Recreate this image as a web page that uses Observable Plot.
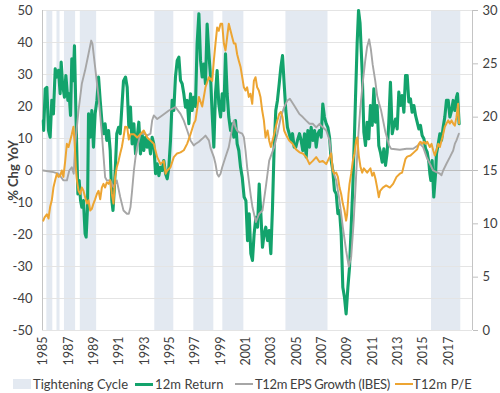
<!DOCTYPE html>
<html><head><meta charset="utf-8">
<script src="https://cdn.jsdelivr.net/npm/d3@7"></script>
<script src="https://cdn.jsdelivr.net/npm/@observablehq/plot@0.6"></script>
<style>
body{margin:0;background:#fff;font-family:Lato,"Open Sans",sans-serif;}
#wrap{position:relative;width:500px;height:393px;overflow:hidden;}
#legend{position:absolute;left:0;top:375px;width:500px;height:18px;font-size:13px;color:#404040;}
.item{position:absolute;top:0;line-height:18px;white-space:nowrap;}
.sw{position:absolute;}
g[aria-label="y-axis label"] text{font-weight:bold;}
</style></head><body><div id="wrap"><div id="chart"></div><div id="legend"></div></div>
<script>
// Tightening cycles [start, end] (decimal years)
const tighteningCycles = [
  [1985.28, 1985.75], [1986.08, 1986.32], [1986.67, 1987.55], [1987.92, 1989.21],
  [1993.80, 1995.30], [1996.88, 1998.46], [1999.17, 2000.83], [2004.15, 2007.47],
  [2015.64, 2017.95]
];

// 12m Return (% YoY) [year, value]
const return12m = [
  [1985.0,15.6],[1985.03,12.5],[1985.15,25.5],[1985.28,26],[1985.41,12.5],[1985.54,10.4],[1985.67,21.9],[1985.80,17.7],
  [1985.94,31.8],[1986.07,29.2],[1986.20,31.3],[1986.33,24],[1986.41,33.9],[1986.52,27],[1986.67,22.9],[1986.78,29.7],
  [1986.94,21.9],[1987.04,24],[1987.15,17.2],[1987.25,34.9],[1987.36,28.1],[1987.46,39],[1987.57,18.75],[1987.67,2.1],
  [1987.73,-7.3],[1987.83,-3.1],[1987.94,-9.4],[1988.04,-11.5],[1988.17,-9.4],[1988.30,-19.8],[1988.38,-20.8],[1988.49,-11.5],
  [1988.57,17.7],[1988.70,10.4],[1988.83,18.75],[1988.96,7.3],[1989.09,17.7],[1989.23,21.9],[1989.36,29.2],[1989.49,21.9],
  [1989.62,15.6],[1989.75,11.5],[1989.88,14.6],[1990.01,9.4],[1990.15,12.5],[1990.28,6.25],[1990.41,-9.4],[1990.50,-12.5],
  [1990.60,-6],[1990.70,2],[1990.80,11.5],[1990.94,13.5],[1991.07,11.5],[1991.33,28],[1991.49,29.2],[1991.62,26],
  [1991.75,13.5],[1991.88,19.8],[1992.01,8.3],[1992.15,14.6],[1992.28,5.2],[1992.41,10.4],[1992.54,15.1],[1992.67,5.2],
  [1992.80,11.5],[1992.93,6.25],[1993.07,10.4],[1993.20,7.3],[1993.33,9.4],[1993.46,5.2],[1993.59,10.4],[1993.72,8.3],
  [1993.86,-1],[1993.99,2.1],[1994.12,-1.6],[1994.25,1],[1994.38,0],[1994.51,3.1],[1994.65,-1],[1994.78,-2.6],
  [1994.91,1],[1995.04,9.4],[1995.17,21.9],[1995.30,18.75],[1995.43,29.2],[1995.57,34.4],[1995.70,35.4],[1995.83,28.1],
  [1995.96,27.1],[1996.09,24],[1996.22,19.8],[1996.36,21.9],[1996.49,14.6],[1996.62,24],[1996.75,18.75],[1996.88,22.9],
  [1997.01,20],[1997.14,39.6],[1997.28,49],[1997.41,34.4],[1997.54,29.2],[1997.67,33.3],[1997.80,27.1],[1997.93,45.8],
  [1998.07,36.5],[1998.20,29.2],[1998.33,17.7],[1998.46,7.3],[1998.59,24],[1998.72,31.25],[1998.85,20.8],[1998.99,16.7],
  [1999.12,24],[1999.25,18.75],[1999.38,36.5],[1999.51,24],[1999.64,16.7],[1999.78,12.5],[1999.91,14.6],[2000.04,10.4],
  [2000.17,15.6],[2000.30,8.3],[2000.43,6.25],[2000.57,1],[2000.70,-2.1],[2000.85,-8.3],[2000.99,-9.4],[2001.12,-21.9],
  [2001.25,-13.5],[2001.38,-26],[2001.51,-28.1],[2001.64,-19.8],[2001.78,-14.6],[2001.91,-17.7],[2002.04,-4.2],[2002.17,-13.5],
  [2002.30,-24],[2002.43,-19.8],[2002.56,-17.7],[2002.70,-21.9],[2002.83,-18.75],[2002.96,-26],[2003.09,-11.5],[2003.22,7.3],
  [2003.35,18.75],[2003.48,21.9],[2003.62,27.1],[2003.75,32.3],[2003.88,35.9],[2004.01,27.1],[2004.14,18.75],[2004.27,13.5],
  [2004.41,11.5],[2004.54,9.4],[2004.67,11.5],[2004.80,7.3],[2004.93,7.3],[2005.06,9.4],[2005.22,11.5],[2005.35,9.4],
  [2005.48,6.25],[2005.62,11.5],[2005.75,4.2],[2005.88,12.5],[2006.01,7.3],[2006.14,13.5],[2006.27,9.4],[2006.41,12.5],
  [2006.54,7.3],[2006.67,11.5],[2006.80,12.5],[2006.93,10.4],[2007.06,20.8],[2007.19,16.7],[2007.33,14.6],[2007.46,13.5],
  [2007.59,10.4],[2007.72,3.1],[2007.85,0],[2007.98,-6.25],[2008.12,-7.3],[2008.25,-13.5],[2008.38,-12.5],[2008.51,-19.8],
  [2008.64,-36.5],[2008.77,-39.6],[2008.90,-44.8],[2009.04,-36.5],[2009.17,-30.2],[2009.30,-17.7],[2009.43,-5],[2009.55,10],
  [2009.64,22.4],[2009.77,39.6],[2009.88,50],[2010.00,46],[2010.17,30.7],[2010.30,12],[2010.43,7.8],[2010.56,15.1],
  [2010.69,9.9],[2010.82,20.3],[2010.96,14.1],[2011.09,25.5],[2011.22,15.1],[2011.35,20.3],[2011.48,7.8],[2011.61,5.7],
  [2011.75,2.6],[2011.88,6.8],[2012.01,1.6],[2012.14,5.7],[2012.27,15.1],[2012.40,27.6],[2012.54,11.5],[2012.67,14.1],
  [2012.80,16.1],[2012.93,13],[2013.06,24.5],[2013.19,20.3],[2013.32,23.4],[2013.46,18.2],[2013.59,29.7],[2013.72,29.7],
  [2013.85,21.4],[2013.98,22.4],[2014.11,18.2],[2014.25,20.3],[2014.38,17.2],[2014.51,15.1],[2014.64,13],[2014.77,14.1],
  [2014.90,10.9],[2015.04,9.9],[2015.17,6.8],[2015.30,5.7],[2015.43,2.6],[2015.51,-1],[2015.59,-3.1],[2015.69,3.1],
  [2015.82,-8.3],[2015.96,-1],[2016.03,5.2],[2016.17,8.3],[2016.30,11.5],[2016.43,9.4],[2016.56,13.5],[2016.69,16.7],
  [2016.82,21.9],[2016.96,21.9],[2017.09,16.7],[2017.22,18.75],[2017.35,21.9],[2017.48,18.75],[2017.61,22.9],[2017.69,24],
  [2017.82,14.6]
];

// T12m EPS Growth (IBES) (% YoY) [year, value]
const epsGrowth = [
  [1985.0,0],[1985.80,-0.5],[1986.20,-1],[1986.59,-3.1],[1986.86,-3.1],[1987.05,0],[1987.25,1],[1987.40,-1],
  [1987.52,8.3],[1987.78,18.75],[1988.04,27.1],[1988.30,31.3],[1988.57,36.5],[1988.78,40.6],[1988.88,39.6],[1989.09,32.3],
  [1989.36,22.9],[1989.62,11.5],[1989.88,-2.1],[1990.01,-3.1],[1990.28,-3.1],[1990.54,-5.2],[1990.80,-3.1],[1991.07,-8.3],
  [1991.33,-12.5],[1991.60,-13.5],[1991.75,-13.5],[1991.88,-11.5],[1992.01,-6.25],[1992.15,0],[1992.28,4.2],[1992.41,7.3],
  [1992.54,9.4],[1992.67,11.5],[1992.93,11.5],[1993.20,11],[1993.46,11.5],[1993.59,15.6],[1993.72,17.2],[1993.99,16.1],
  [1994.38,17.2],[1994.91,18.75],[1995.43,19.8],[1995.83,17.7],[1996.09,15.6],[1996.36,12.5],[1996.62,9.4],[1996.88,7.8],
  [1997.01,8.3],[1997.28,9],[1997.54,9.9],[1997.80,10.9],[1998.07,9.4],[1998.20,7],[1998.46,4.2],[1998.59,2.1],
  [1998.72,-1],[1998.85,-1.9],[1998.99,-1],[1999.12,1],[1999.38,4.2],[1999.64,7.3],[1999.78,10.4],[1999.91,13.5],
  [2000.04,15.6],[2000.17,13.5],[2000.30,12.5],[2000.43,12],[2000.70,11.5],[2000.83,10.4],[2000.96,6.25],[2001.09,1],
  [2001.22,-3.1],[2001.38,-8],[2001.51,-11.5],[2001.78,-16.1],[2002.04,-13.5],[2002.30,-12.5],[2002.56,-5.2],[2002.83,3.1],
  [2003.22,7.3],[2003.48,11.5],[2003.75,16.7],[2004.01,19.8],[2004.27,21.9],[2004.46,22.4],[2004.80,20.3],[2005.20,17.7],
  [2005.48,16.7],[2005.75,15.6],[2006.01,14.6],[2006.27,14.6],[2006.54,13.5],[2006.80,14.6],[2007.06,13.5],[2007.33,12.5],
  [2007.59,9.4],[2007.85,0],[2008.12,-3.1],[2008.38,-9.4],[2008.64,-17.7],[2008.90,-25],[2009.11,-30],[2009.30,-27],
  [2009.48,-17],[2009.62,-7],[2009.75,3],[2009.88,12],[2010.01,19],[2010.20,27],[2010.40,34],[2010.55,38.5],
  [2010.72,41],[2010.85,38],[2011.00,33],[2011.20,28],[2011.35,23.4],[2011.50,21],[2011.65,19],[2011.80,16],
  [2012.00,12],[2012.15,9.9],[2012.30,7.8],[2012.45,6.8],[2013.14,6.5],[2013.67,6.8],[2014.19,6.8],[2014.72,8.3],
  [2014.98,7.3],[2015.25,4.2],[2015.51,2.1],[2015.77,0],[2016.03,-0.5],[2016.30,-1],[2016.43,-1.5],[2016.56,0],
  [2016.82,2.1],[2017.09,4.2],[2017.35,6.25],[2017.48,8.3],[2017.61,9.4],[2017.80,11.5]
];

// T12m P/E (right axis) [year, value]
const peRatio = [
  [1985.0,10.3],[1985.10,10.6],[1985.28,10.9],[1985.41,10.5],[1985.54,11.6],[1985.67,12.2],[1985.80,13.4],[1985.94,14.1],
  [1986.07,14.7],[1986.20,14.4],[1986.33,14.5],[1986.46,15],[1986.59,14.4],[1986.73,15.9],[1986.86,17.5],[1986.99,17.2],
  [1987.12,17.8],[1987.25,18.4],[1987.38,19.1],[1987.46,17.8],[1987.57,15.3],[1987.65,14.1],[1987.78,13.1],[1987.91,12.8],
  [1988.04,13.4],[1988.17,13.1],[1988.30,12.5],[1988.44,11.9],[1988.57,12.2],[1988.70,11.25],[1988.83,11.4],[1988.96,11.9],
  [1989.09,12.3],[1989.23,12.8],[1989.36,13.1],[1989.49,12.3],[1989.62,13.4],[1989.75,13.75],[1989.88,13.4],[1990.01,13.9],
  [1990.15,13.75],[1990.28,14.1],[1990.41,12.8],[1990.54,11.9],[1990.67,14.4],[1990.80,15.3],[1990.94,15.9],[1991.07,16.6],
  [1991.20,17.2],[1991.33,18.1],[1991.46,19.1],[1991.62,19.06],[1991.75,17.9],[1991.88,18.4],[1992.15,18.4],[1992.41,18.1],
  [1992.67,18.4],[1992.93,18.75],[1993.20,18.1],[1993.46,17.8],[1993.72,17.5],[1993.99,16.25],[1994.25,15.6],[1994.51,15.9],
  [1994.65,14.7],[1994.78,15],[1995.04,15.3],[1995.30,16.25],[1995.56,16.6],[1995.83,16.7],[1996.09,16.9],[1996.35,17.5],
  [1996.62,18.4],[1996.88,19.4],[1997.01,19.7],[1997.28,21.9],[1997.54,21],[1997.80,22.8],[1998.07,23.75],[1998.33,23.4],
  [1998.46,25.3],[1998.59,26.9],[1998.72,28.4],[1998.85,28.1],[1998.99,28.75],[1999.12,28.75],[1999.25,26.9],[1999.38,26.25],
  [1999.51,27.5],[1999.64,28.75],[1999.78,28.1],[1999.91,27.5],[2000.04,26.9],[2000.17,26.9],[2000.30,25.9],[2000.43,25.3],
  [2000.57,24.7],[2000.70,23.75],[2000.83,22.8],[2000.96,22.5],[2001.09,22.8],[2001.22,21.9],[2001.35,22.2],[2001.49,21.25],
  [2001.62,23.4],[2001.75,23.75],[2001.88,22.8],[2002.01,22.5],[2002.14,21.9],[2002.28,20.6],[2002.41,19.7],[2002.54,18.1],
  [2002.70,18.75],[2002.83,17.8],[2002.96,17.2],[2003.09,17.8],[2003.22,18.4],[2003.35,19.1],[2003.48,19.7],[2003.62,20.3],
  [2003.75,20.5],[2003.88,20.0],[2004.01,18.75],[2004.14,18.4],[2004.27,18.1],[2004.41,17.8],[2004.67,17.5],[2004.93,17.0],
  [2005.22,16.7],[2005.48,16.6],[2005.75,16.25],[2006.01,15.6],[2006.27,15.9],[2006.54,16.25],[2006.80,15.8],[2007.06,15.9],
  [2007.33,15.6],[2007.59,16.25],[2007.72,16.6],[2007.85,15.0],[2007.98,14.7],[2008.12,14.8],[2008.25,14.4],[2008.38,13.4],
  [2008.51,12.8],[2008.64,11.9],[2008.77,11.25],[2008.90,10.3],[2008.98,10.9],[2009.09,12.8],[2009.17,13.75],[2009.30,14.7],
  [2009.43,15.9],[2009.56,16.6],[2009.69,17.8],[2009.78,18.1],[2009.90,16.4],[2010.04,15.3],[2010.17,14.8],[2010.30,15.2],
  [2010.56,14.8],[2010.82,15.2],[2010.96,14.5],[2011.09,14.8],[2011.22,14.2],[2011.35,13.4],[2011.48,12.5],[2011.59,13.1],
  [2011.80,13.4],[2012.06,13.6],[2012.35,13.4],[2012.61,13.75],[2012.88,14.4],[2013.14,14.7],[2013.32,14.8],[2013.46,15.5],
  [2013.59,16.1],[2013.72,16.3],[2013.98,16.4],[2014.25,16.7],[2014.51,17.0],[2014.64,17.5],[2014.77,17.7],[2014.90,17.5],
  [2015.04,17.7],[2015.17,17.5],[2015.30,17.7],[2015.51,17.2],[2015.64,17.5],[2015.77,16.9],[2015.90,16.4],[2016.03,16.9],
  [2016.17,17.5],[2016.30,17.2],[2016.43,17.8],[2016.56,18.4],[2016.69,19.1],[2016.82,19.4],[2016.96,19.7],[2017.09,19.4],
  [2017.22,19.7],[2017.35,19.4],[2017.48,19.2],[2017.61,20],[2017.74,21.25],[2017.82,19.4]
];

// Axis ticks
const yearTicks = d3.range(1985, 2018, 2);
const leftTicks = d3.range(-50, 51, 10);
const rightTicks = [0, 5, 10, 15, 20, 25, 30];

// Series styling
const series = [
  {name: "12m Return", color: "#13A36C", width: 3.1},
  {name: "T12m EPS Growth (IBES)", color: "#A6A6A6", width: 1.9},
  {name: "T12m P/E", color: "#EDA532", width: 2}
];

// right axis (0..30) mapped onto left (-50..50)
const peToLeft = v => v * 100 / 30 - 50;
const leftToPe = v => (v + 50) * 30 / 100;

const xMin = 1985 + (42 - 42.8) / 12.67, xMax = 1985 + (472 - 42.8) / 12.67;

const chart = Plot.plot({
  width: 500, height: 375,
  marginLeft: 42, marginRight: 28, marginTop: 10, marginBottom: 45,
  style: {fontFamily: "Lato, 'Open Sans', sans-serif", fontSize: "13px", color: "#404040", background: "white"},
  x: {domain: [xMin, xMax]},
  y: {domain: [-50, 50]},
  marks: [
    Plot.rect(tighteningCycles, {x1: d => d[0], x2: d => d[1], y1: () => -50, y2: () => 50, fill: "#E3E9F1"}),
    Plot.ruleY(leftTicks.filter(v => v !== 0), {stroke: "#E4E4E4", strokeWidth: 1}),
    Plot.ruleY([0], {stroke: "#BDBDBD", strokeWidth: 1.2}),
    Plot.ruleX([xMin], {stroke: "#C4C4C4"}),
    Plot.ruleX([xMax], {stroke: "#C4C4C4"}),
    Plot.line(return12m, {x: d => d[0], y: d => d[1], stroke: series[0].color, strokeWidth: series[0].width, strokeLinejoin: "round"}),
    Plot.line(epsGrowth, {x: d => d[0], y: d => d[1], stroke: series[1].color, strokeWidth: series[1].width, strokeLinejoin: "round"}),
    Plot.line(peRatio, {x: d => d[0], y: d => peToLeft(d[1]), stroke: series[2].color, strokeWidth: series[2].width, strokeLinejoin: "round"}),
    Plot.axisX({ticks: yearTicks, tickFormat: d => String(d), tickRotate: -90, tickSize: 0, tickPadding: 6, label: null, fontSize: 12.5}),
    Plot.axisY({ticks: leftTicks, tickFormat: d => String(d), tickSize: 0, tickPadding: 10, label: "% Chg YoY", labelAnchor: "center", labelOffset: 34, labelArrow: "none", fontSize: 13}),
    Plot.axisY({anchor: "right", ticks: rightTicks.map(peToLeft), tickFormat: v => String(Math.round(leftToPe(v))), tickSize: 5, tickPadding: 5, stroke: "#BFBFBF", label: null, fontSize: 13})
  ]
});
document.getElementById("chart").appendChild(chart);

// Legend (HTML, below the SVG)
const legend = document.getElementById("legend");
const legendItems = [
  {type: "box", label: "Tightening Cycle", sx: 13, tx: 33, color: "#E3E9F1", ls: 0},
  {type: "line", label: series[0].name, sx: 135, tx: 155, color: series[0].color, w: 3, ls: 0.1},
  {type: "line", label: series[1].name, sx: 235, tx: 255, color: series[1].color, w: 2, ls: -0.35},
  {type: "line", label: series[2].name, sx: 395, tx: 413, color: series[2].color, w: 2, ls: 0.2}
];
for (const it of legendItems) {
  const sw = document.createElement("div");
  sw.className = "sw";
  sw.style.left = it.sx + "px";
  sw.style.width = "18px";
  sw.style.background = it.color;
  if (it.type === "box") { sw.style.top = "4px"; sw.style.height = "10px"; }
  else { sw.style.top = (9 - it.w / 2) + "px"; sw.style.height = it.w + "px"; }
  legend.appendChild(sw);
  const t = document.createElement("div");
  t.className = "item";
  t.style.left = it.tx + "px";
  t.style.letterSpacing = it.ls + "px";
  t.textContent = it.label;
  legend.appendChild(t);
}
</script></body></html>
